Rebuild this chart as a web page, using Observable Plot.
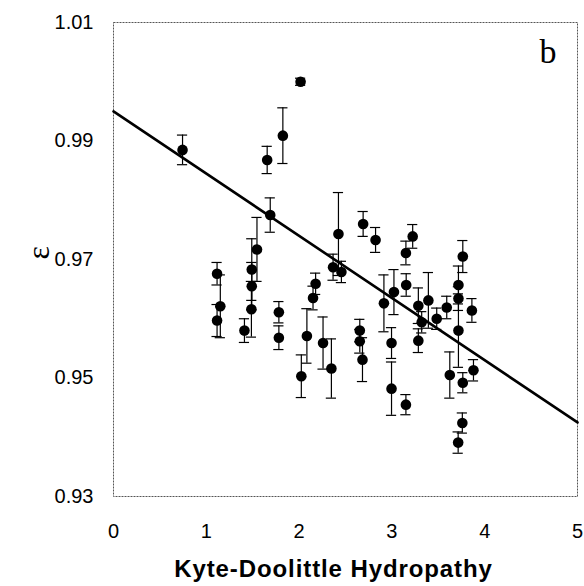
<!DOCTYPE html>
<html>
<head>
<meta charset="utf-8">
<script src="https://cdn.jsdelivr.net/npm/d3@7"></script>
<script src="https://cdn.jsdelivr.net/npm/@observablehq/plot@0.6"></script>
<style>
  html, body { margin: 0; padding: 0; background: #fff; }
</style>
</head>
<body>
<div id="chart"></div>
<script>
// Kyte-Doolittle hydropathy (x), epsilon (y), error (±)
const kd  = [0.744, 2.016, 1.656, 1.825, 1.689, 2.424, 1.546, 1.490, 1.490, 1.486,
             1.411, 1.116, 1.151, 1.116, 1.782, 1.782, 2.178, 2.150, 2.084, 2.024,
             2.258, 2.348, 2.366, 2.456, 2.824, 2.690, 3.224, 3.151, 3.764, 3.154,
             3.022, 2.914, 3.285, 3.393, 3.321, 3.483, 3.591, 3.717, 3.717, 3.717,
             3.862, 2.654, 2.654, 2.683, 2.996, 2.996, 3.151, 3.285, 3.624, 3.764,
             3.879, 3.759, 3.714];
const eps = [0.9885, 1.0000, 0.9868, 0.9909, 0.9775, 0.9743, 0.9717, 0.9683, 0.9655, 0.9616,
             0.9580, 0.9676, 0.9621, 0.9597, 0.9611, 0.9568, 0.9659, 0.9635, 0.9571, 0.9503,
             0.9559, 0.9516, 0.9687, 0.9679, 0.9733, 0.9760, 0.9739, 0.9711, 0.9705, 0.9657,
             0.9645, 0.9626, 0.9622, 0.9631, 0.9594, 0.9600, 0.9619, 0.9657, 0.9634, 0.9580,
             0.9614, 0.9580, 0.9562, 0.9531, 0.9559, 0.9482, 0.9455, 0.9563, 0.9505, 0.9492,
             0.9513, 0.9424, 0.9391];
const err = [0.0025, 0.0006, 0.0023, 0.0047, 0.0029, 0.0070, 0.0054, 0.0052, 0.0040, 0.0047,
             0.0020, 0.0019, 0.0053, 0.0027, 0.0018, 0.0020, 0.0018, 0.0020, 0.0046, 0.0036,
             0.0044, 0.0050, 0.0022, 0.0018, 0.0021, 0.0021, 0.0020, 0.0020, 0.0027, 0.0019,
             0.0038, 0.0048, 0.0030, 0.0047, 0.0018, 0.0018, 0.0019, 0.0032, 0.0020, 0.0062,
             0.0020, 0.0019, 0.0020, 0.0037, 0.0026, 0.0045, 0.0017, 0.0020, 0.0039, 0.0017,
             0.0018, 0.0017, 0.0018];
// regression line endpoints
const fitX = [0, 5];
const fitY = [0.9950, 0.9425];
const xTicks = [0, 1, 2, 3, 4, 5];
const yTicks = [0.93, 0.95, 0.97, 0.99, 1.01];
const xTitle = "Kyte-Doolittle Hydropathy";
const yTitle = "ε";
const panel = "b";

const data = kd.map((x, i) => ({x, y: eps[i], e: err[i]}));
const fit = fitX.map((x, i) => ({x, y: fitY[i]}));
const capHalf = 0.055;

const chart = Plot.plot({
  width: 584,
  height: 586,
  marginLeft: 113,
  marginRight: 7,
  marginTop: 22,
  marginBottom: 90,
  style: {fontFamily: "Liberation Sans, Arial, sans-serif", fontSize: "20px", color: "#000", background: "#fff"},
  x: {domain: [0, 5]},
  y: {domain: [0.93, 1.01]},
  marks: [
    Plot.frame({stroke: "#555", strokeWidth: 1, strokeDasharray: "2,1"}),
    Plot.axisY({ticks: yTicks, tickSize: 0, tickPadding: 20, tickFormat: d => d.toFixed(2), label: null}),
    Plot.axisX({ticks: xTicks, tickSize: 0, tickPadding: 27, tickFormat: d => String(d), label: null}),
    Plot.line(fit, {x: "x", y: "y", stroke: "#000", strokeWidth: 2.6}),
    Plot.ruleX(data, {x: "x", y1: d => d.y - d.e, y2: d => d.y + d.e, stroke: "#000", strokeWidth: 1.2}),
    Plot.ruleY(data, {y: d => d.y + d.e, x1: d => d.x - capHalf, x2: d => d.x + capHalf, stroke: "#000", strokeWidth: 1.2}),
    Plot.ruleY(data, {y: d => d.y - d.e, x1: d => d.x - capHalf, x2: d => d.x + capHalf, stroke: "#000", strokeWidth: 1.2}),
    Plot.dot(data, {x: "x", y: "y", r: 5.3, fill: "#000", stroke: "none"}),
    Plot.text([xTitle], {frameAnchor: "bottom", dx: -12, dy: 73, fontSize: 24, fontWeight: "bold", fill: "#000", lineAnchor: "middle"}),
    Plot.text([yTitle], {frameAnchor: "left", dx: -75, rotate: -90, fontSize: 32, fontFamily: "Liberation Serif, serif", fill: "#000"}),
    Plot.text([panel], {frameAnchor: "top-right", dx: -21, dy: 16, fontSize: 34, fontFamily: "Liberation Serif, serif", fill: "#000"})
  ]
});
chart.querySelectorAll("text").forEach(t => {
  if (t.textContent === xTitle) t.setAttribute("letter-spacing", "0.9");
});
document.getElementById("chart").appendChild(chart);
</script>
</body>
</html>
